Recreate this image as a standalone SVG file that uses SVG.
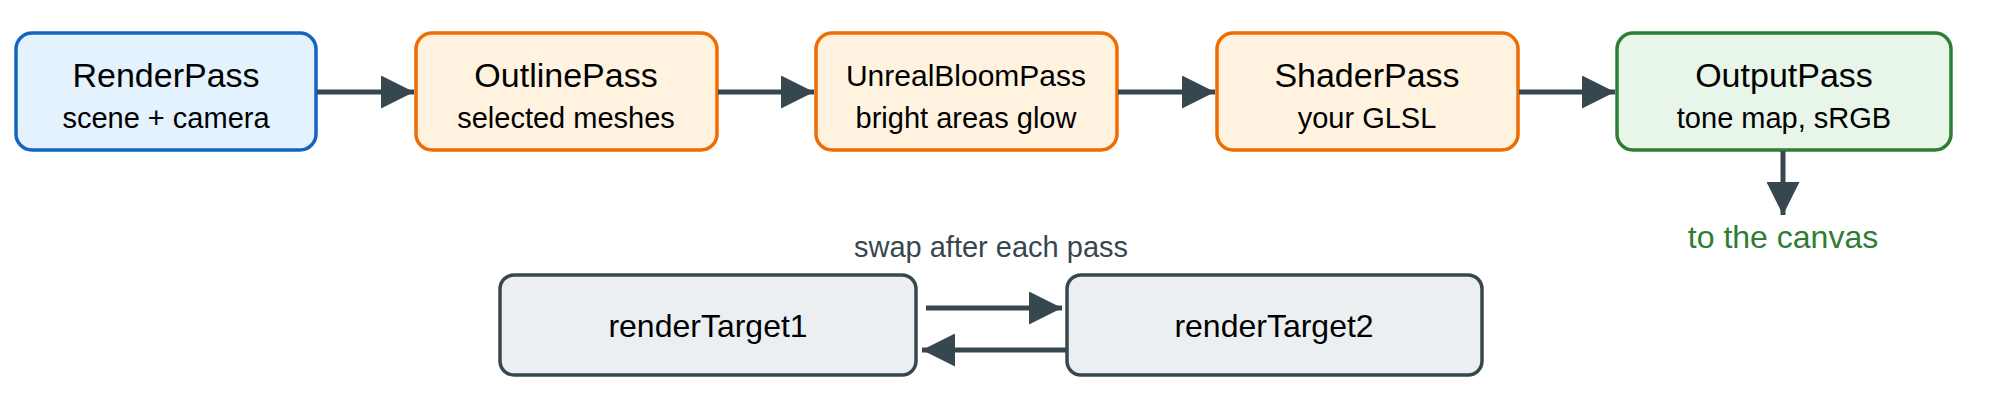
<svg xmlns="http://www.w3.org/2000/svg" width="2000" height="417" viewBox="0 0 2000 417">
<style>
text{font-family:"Liberation Sans",Arial,sans-serif;text-anchor:middle;fill:#000}
.t{font-size:34px}.s{font-size:29px}
rect{stroke-width:3.5}
.b{fill:#e3f2fd;stroke:#1565c0}.o{fill:#fff3e0;stroke:#ef6c00}.g{fill:#e8f5e9;stroke:#2e7d32}.k{fill:#eceff1;stroke:#37474f}
.c line{stroke:#37474f;stroke-width:5}
</style>
<defs><marker id="a" viewBox="0 0 10 10" refX="10" refY="5" markerWidth="6.6" markerHeight="6.6" markerUnits="strokeWidth" orient="auto"><path d="M0,0L10,5L0,10z" fill="#37474f"/></marker></defs>
<rect x="0" y="0" width="2000" height="417" fill="#fff" stroke="none"/>
<g id="renderpass"><rect class="b" x="16" y="33" width="300" height="117" rx="16"/><text class="t" x="166" y="87">RenderPass</text><text class="s" x="166" y="128">scene + camera</text></g>
<g id="outlinepass"><rect class="o" x="416" y="33" width="301" height="117" rx="16"/><text class="t" x="566" y="87">OutlinePass</text><text class="s" x="566" y="128">selected meshes</text></g>
<g id="unrealbloompass"><rect class="o" x="816" y="33" width="301" height="117" rx="16"/><text x="966" y="86" style="font-size:30px">UnrealBloomPass</text><text class="s" x="966" y="128">bright areas glow</text></g>
<g id="shaderpass"><rect class="o" x="1217" y="33" width="301" height="117" rx="16"/><text class="t" x="1367" y="87">ShaderPass</text><text class="s" x="1367" y="128">your GLSL</text></g>
<g id="outputpass"><rect class="g" x="1617" y="33" width="334" height="117" rx="16"/><text class="t" x="1784" y="87">OutputPass</text><text class="s" x="1784" y="128">tone map, sRGB</text></g>
<text x="1783" y="248" style="font-size:32px;fill:#2e7d32">to the canvas</text>
<g id="rt1"><rect class="k" x="500" y="275" width="416" height="100" rx="14"/><text x="708" y="337" style="font-size:32px">renderTarget1</text></g>
<g id="rt2"><rect class="k" x="1067" y="275" width="415" height="100" rx="14"/><text x="1274" y="337" style="font-size:32px">renderTarget2</text></g>
<text x="991" y="257" style="font-size:29px;fill:#37474f">swap after each pass</text>
<g class="c">
<line x1="317" y1="92" x2="414" y2="92" marker-end="url(#a)"/>
<line x1="718" y1="92" x2="814" y2="92" marker-end="url(#a)"/>
<line x1="1118" y1="92" x2="1215" y2="92" marker-end="url(#a)"/>
<line x1="1519" y1="92" x2="1615" y2="92" marker-end="url(#a)"/>
<line x1="1783" y1="151" x2="1783" y2="215" marker-end="url(#a)"/>
<line x1="926" y1="308" x2="1062" y2="308" marker-end="url(#a)"/>
<line x1="1067" y1="350" x2="922" y2="350" marker-end="url(#a)"/>
</g>
</svg>
